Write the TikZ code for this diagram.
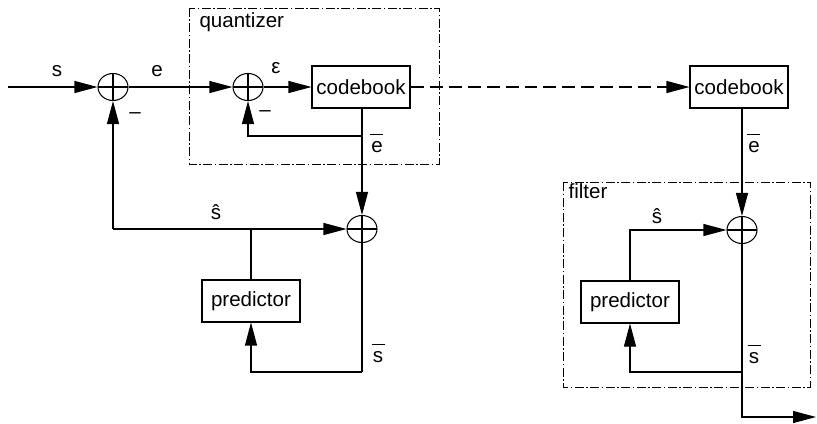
\documentclass[tikz,border=0pt]{standalone}
\usepackage{fontspec}
\setsansfont{Liberation Sans}
\usetikzlibrary{shapes.geometric,arrows.meta,positioning,calc}

\newcommand{\sigbar}[1]{\leavevmode\rlap{\kern-0.05em\raisebox{0.84em}{\rule{0.62em}{0.5pt}}}#1}

\begin{document}
\begin{tikzpicture}[
    x=0.02cm, y=-0.02cm,
    font=\sffamily\fontsize{11.7}{14}\selectfont,
    line width=0.6pt,
    >={Triangle[length=0.46cm, width=0.24cm]},
    blockbox/.style={draw, minimum width=1.96cm, minimum height=0.84cm, inner sep=0pt},
    sumnode/.style={draw, ellipse, minimum width=0.6cm, minimum height=0.54cm, inner sep=0pt,
        path picture={\draw (path picture bounding box.north) -- (path picture bounding box.south)
                            (path picture bounding box.west) -- (path picture bounding box.east);}},
    groupbox/.style={draw, line width=0.5pt, dash pattern=on 0.18cm off 0.05cm on 0.03cm off 0.05cm},
    sig/.style={anchor=base, inner sep=0pt},
    minus/.style={inner sep=0pt}
]
    \useasboundingbox (0,0) rectangle (817,423);

    % Encoder : quantizer loop
    \draw[groupbox] (189,8) rectangle (439,164);
    \node[sig, anchor=base west] (qname) at (199,27) {quantizer};

    \coordinate (in) at (8,87);
    \node[sumnode] (sum1) at (113,87) {};
    \node[sumnode] (sum2) at (248,87) {};
    \node[blockbox] (cb1) at (361,87) {codebook};
    \coordinate (efb) at (362,136);

    \draw[->] (in) -- (sum1);
    \draw[->] (sum1) -- (sum2);
    \draw[->] (sum2) -- (cb1);
    \draw[->] (efb) -| (sum2);

    \node[sig] (ls) at (57,76) {s};
    \node[sig] (le) at (157,76) {e};
    \node[sig] (leps) at (276,73) {ε};
    \node[minus] (m1) at (135,116) {--};
    \node[minus] (m2) at (265,114) {--};

    % Encoder : prediction loop
    \node[sumnode] (sum3) at (362,229) {};
    \node[blockbox] (pred1) at (251,301) {predictor};
    \coordinate (shat1) at (113,229);
    \coordinate (sfb1) at (362,372);

    \draw[->] (cb1.south -| sum3) -- (sum3);
    \draw[->] (shat1) -- (sum1);
    \draw[->] (shat1) -- (sum3);
    \draw (pred1.north) -- (pred1.north |- sum3);
    \draw (sum3) -- (sfb1);
    \draw[->] (sfb1) -| (pred1);

    \node[sig] (lebar1) at (377,152) {\sigbar{e}};
    \node[sig] (lshat1) at (216,219) {ŝ};
    \node[sig] (lsbar1) at (378,362) {\sigbar{s}};

    % Decoder : codebook and filter
    \node[blockbox] (cb2) at (739,87) {codebook};
    \draw[->, dash pattern=on 0.26cm off 0.12cm] (cb1) -- (cb2);

    \draw[groupbox] (563,182) rectangle (810,387);
    \node[sig, anchor=base west] (fname) at (568,198) {filter};

    \node[sumnode] (sum4) at (742,230) {};
    \node[blockbox] (pred2) at (630,302) {predictor};
    \coordinate (sfb2) at (742,372);
    \coordinate (out) at (816,417);

    \draw[->] (cb2.south -| sum4) -- (sum4);
    \draw[->] (pred2.north) |- (sum4);
    \draw[->] (sum4) |- (out);
    \draw[->] (sfb2) -| (pred2);

    \node[sig] (lebar2) at (754,152) {\sigbar{e}};
    \node[sig] (lshat2) at (657,223) {ŝ};
    \node[sig] (lsbar2) at (754,363) {\sigbar{s}};

\end{tikzpicture}
\end{document}
